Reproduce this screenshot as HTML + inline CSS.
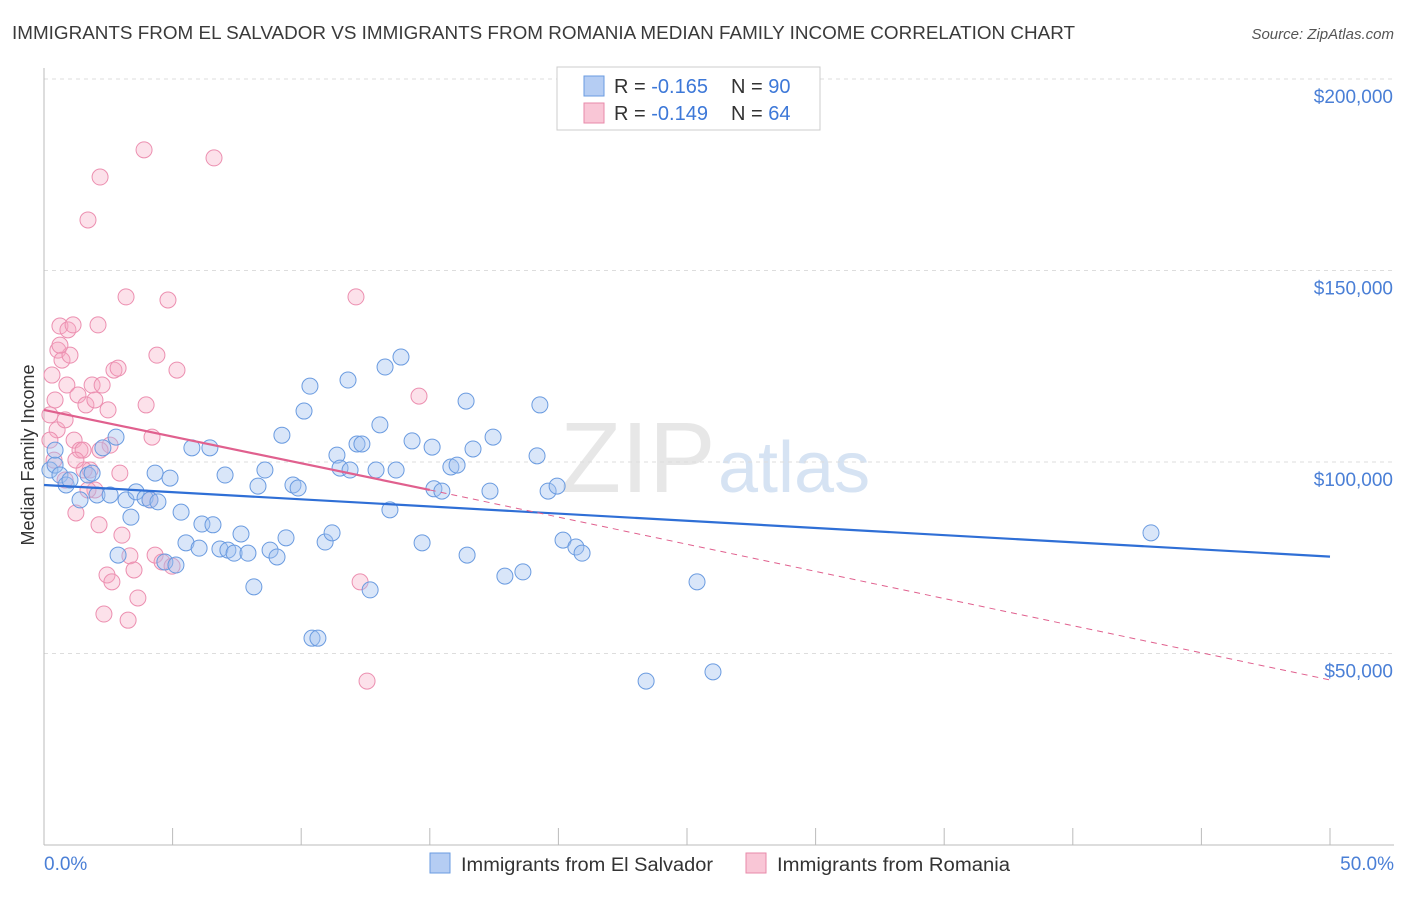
<!DOCTYPE html>
<html><head><meta charset="utf-8"><style>
body{margin:0;background:#fff;font-family:"Liberation Sans",sans-serif;}
svg text{font-family:"Liberation Sans",sans-serif;}
</style></head><body>
<svg id="c" width="1406" height="892" xmlns="http://www.w3.org/2000/svg">
<text x="12" y="39" font-size="18" fill="#3a3a3a" textLength="1063" lengthAdjust="spacingAndGlyphs">IMMIGRANTS FROM EL SALVADOR VS IMMIGRANTS FROM ROMANIA MEDIAN FAMILY INCOME CORRELATION CHART</text>
<text x="1394" y="39" font-size="15" font-style="italic" fill="#555" text-anchor="end">Source: ZipAtlas.com</text>
<text x="560" y="492" font-size="100" font-family="Liberation Serif" fill="#ddd" opacity="0.7">ZIP</text>
<text x="718" y="492" font-size="72" fill="#c5d8ef" opacity="0.7">atlas</text>
<g id="grid"></g><g id="axes"></g><g id="pts"></g><g id="lines"></g>
<text transform="translate(34,455) rotate(-90)" font-size="18" fill="#333" text-anchor="middle">Median Family Income</text>
<text x="44" y="870" font-size="19" fill="#4a7fd6">0.0%</text>
<text x="1394" y="870" font-size="19" fill="#4a7fd6" text-anchor="end">50.0%</text>
<g>
<rect x="557" y="67" width="263" height="63" fill="#fff" stroke="#ccc"/>
<rect x="584" y="76" width="20" height="20" fill="#b5cdf3" stroke="#6a9be0"/>
<rect x="584" y="103" width="20" height="20" fill="#f9c6d6" stroke="#e88aaa"/>
<text x="614" y="93" font-size="20" fill="#333">R = <tspan fill="#3d78d8">-0.165</tspan></text>
<text x="731" y="93" font-size="20" fill="#333">N = <tspan fill="#3d78d8">90</tspan></text>
<text x="614" y="120" font-size="20" fill="#333">R = <tspan fill="#3d78d8">-0.149</tspan></text>
<text x="731" y="120" font-size="20" fill="#333">N = <tspan fill="#3d78d8">64</tspan></text>
</g>
<g>
<rect x="430" y="853" width="20" height="20" fill="#b5cdf3" stroke="#6a9be0"/>
<text x="461" y="871" font-size="19" fill="#333" textLength="252" lengthAdjust="spacingAndGlyphs">Immigrants from El Salvador</text>
<rect x="746" y="853" width="20" height="20" fill="#f9c6d6" stroke="#e88aaa"/>
<text x="777" y="871" font-size="19" fill="#333" textLength="233" lengthAdjust="spacingAndGlyphs">Immigrants from Romania</text>
</g>
</svg>
<script>
const yTicks=[50,100,150,200];
const yTickLabels=["$50,000","$100,000","$150,000","$200,000"];
const blueX=[0.23,0.43,0.62,0.86,1.01,1.40,1.71,1.87,2.06,2.29,2.57,2.80,2.88,3.19,3.38,3.58,3.93,4.12,4.32,4.43,4.70,4.90,5.13,5.33,5.52,5.75,6.03,6.14,6.45,6.57,6.84,7.04,7.15,7.39,7.66,7.93,8.16,8.32,8.59,8.79,9.06,9.25,9.41,9.68,9.88,10.11,10.34,10.42,10.65,10.93,11.20,11.39,11.51,11.82,11.90,12.17,12.36,12.68,12.91,13.06,13.26,13.69,13.45,13.88,14.31,14.70,15.09,15.16,15.47,15.82,16.06,16.41,16.45,16.68,17.34,17.46,17.92,18.62,19.17,19.28,19.60,19.95,20.18,20.68,20.92,23.41,25.39,26.01,43.04,0.43];
const blueY=[97.9,99.2,96.6,94.0,95.3,90.1,96.6,97.1,91.4,103.7,91.4,106.5,75.7,90.1,85.6,92.2,90.6,90.1,97.1,89.6,73.9,95.8,73.1,86.9,78.9,103.7,77.5,83.8,103.7,83.6,77.3,96.6,77.0,76.2,81.2,76.2,67.4,93.7,97.9,77.0,75.2,107.0,80.2,94.0,93.2,113.3,119.8,54.0,54.0,79.1,81.5,101.8,98.4,121.4,97.9,104.7,104.7,66.6,97.9,109.7,124.8,97.9,87.5,127.4,105.5,78.9,103.9,93.0,92.4,98.7,99.2,115.9,75.7,103.4,92.4,106.5,70.2,71.3,101.6,114.9,92.4,93.7,79.6,77.8,76.2,42.8,68.7,45.2,81.5,103.1];
const pinkX=[0.23,0.31,0.43,0.51,0.54,0.62,0.70,0.82,0.89,0.93,1.01,1.13,1.17,1.24,1.32,1.40,1.52,1.63,1.71,1.79,1.87,1.98,2.10,2.14,2.18,2.26,2.33,2.45,2.49,2.57,2.64,2.72,2.88,2.95,3.03,3.19,3.27,3.34,3.50,3.65,3.89,3.97,4.20,4.32,4.39,4.59,4.82,4.98,5.17,6.61,12.13,12.29,12.56,14.58,0.23,0.39,0.62,1.56,1.98,1.71,1.24,0.82,2.18,4.12];
const pinkY=[112.3,122.7,116.2,108.4,129.2,135.5,126.6,111.0,120.1,134.5,127.9,135.8,105.7,86.7,117.5,103.1,103.1,114.9,163.2,97.9,120.1,92.7,135.8,83.6,174.4,120.1,60.3,70.5,113.6,104.4,68.7,124.0,124.5,97.1,80.9,143.1,58.7,75.5,71.8,64.5,181.5,114.9,106.5,75.7,127.9,73.9,142.3,72.8,124.0,179.4,143.1,68.7,42.8,117.2,105.7,100.5,130.5,97.9,116.2,92.7,100.5,95.3,103.1,90.1];
const blueTrend=[94.0,75.3];
const pinkTrend=[113.6,92.7,43.1];
const NS='http://www.w3.org/2000/svg';
const X=v=>44+v*25.72, Y=v=>845-v*3.83;
function mk(t,a,p){const e=document.createElementNS(NS,t);for(const k in a)e.setAttribute(k,a[k]);document.getElementById(p).appendChild(e);return e;}
yTicks.forEach((t,i)=>{
 const l=mk('line',{x1:44,x2:1394,y1:Y(t),y2:Y(t),stroke:'#ddd','stroke-dasharray':'4,4'},'grid');
 
 
 const tx=mk('text',{x:1393,y:Y(t)+24,'font-size':19,fill:'#4a7fd6','text-anchor':'end'},'axes');
 tx.textContent=yTickLabels[i];
 
 
});
const ax=mk('line',{x1:44,x2:44,y1:68,y2:845,stroke:'#bbb'},'axes');


const bx=mk('line',{x1:44,x2:1394,y1:845,y2:845,stroke:'#bbb'},'axes');


for(let i=0;i<=10;i++){const t=mk('line',{x1:X(i*5),x2:X(i*5),y1:828,y2:845,stroke:'#bbb'},'axes');
 
 }
pinkX.forEach((x,i)=>{const c=mk('circle',{cx:X(x),cy:Y(pinkY[i]),r:8,fill:'rgba(246,170,196,0.35)',stroke:'#ec8fb0','stroke-width':1},'pts');
 
 });
blueX.forEach((x,i)=>{const c=mk('circle',{cx:X(x),cy:Y(blueY[i]),r:8,fill:'rgba(160,192,240,0.4)',stroke:'#6a9be0','stroke-width':1},'pts');
 
 });
const bl=mk('line',{x1:X(0),y1:Y(blueTrend[0]),x2:X(50),y2:Y(blueTrend[1]),stroke:'#2f6fd6','stroke-width':2.2},'lines');


const pl=mk('line',{x1:X(0),y1:Y(pinkTrend[0]),x2:X(15),y2:Y(pinkTrend[1]),stroke:'#e0608e','stroke-width':2.2},'lines');


const pd=mk('line',{x1:X(15),y1:Y(pinkTrend[1]),x2:X(50),y2:Y(pinkTrend[2]),stroke:'#e0608e','stroke-width':1,'stroke-dasharray':'6,5'},'lines');


</script>
</body></html>
